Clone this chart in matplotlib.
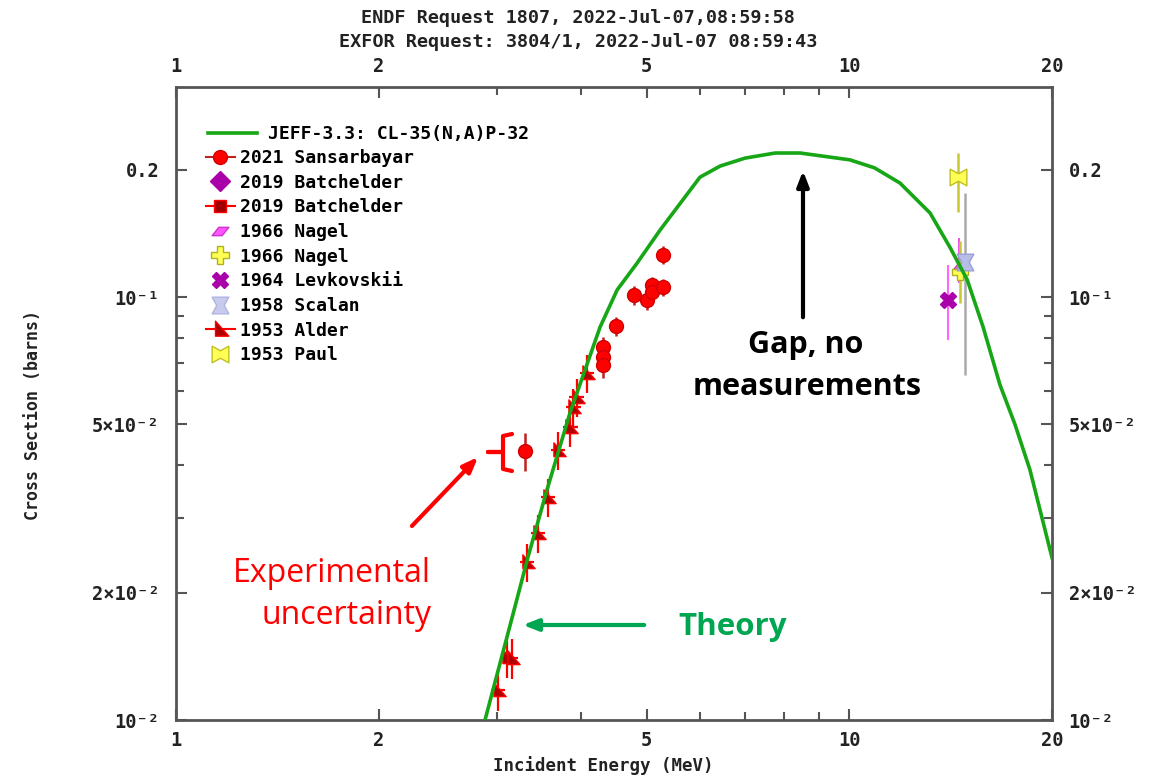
import matplotlib
matplotlib.use("Agg")
import matplotlib.pyplot as plt
from matplotlib.path import Path
from matplotlib.lines import Line2D

# ---------------- data ----------------
theory_E = [2.877, 3.13, 3.333, 3.556, 3.847, 4.264, 4.52, 4.84, 5.236, 6.0, 6.43, 7.0,
            7.76, 8.45, 10.02, 10.9, 11.89, 13.18, 14.11, 14.96, 15.80, 16.74, 17.62, 18.55, 20.0]
theory_S = [0.0100, 0.0166, 0.0243, 0.0350, 0.0532, 0.0849, 0.1039, 0.1203, 0.144, 0.192, 0.204, 0.213,
            0.219, 0.219, 0.211, 0.202, 0.186, 0.158, 0.131, 0.110, 0.085, 0.062, 0.050, 0.039, 0.0242]

sans_E = [3.30, 4.31, 4.31, 4.31, 4.50, 4.79, 5.01, 5.09, 5.09, 5.29, 5.29]
sans_S = [0.0432, 0.0760, 0.0720, 0.0690, 0.0854, 0.1010, 0.0984, 0.1067, 0.1027, 0.1056, 0.1257]
sans_dS = [0.0045, 0.0045, 0.0045, 0.0045, 0.0045, 0.0050, 0.0050, 0.0050, 0.0050, 0.0050, 0.0060]

alder_E = [3.01, 3.10, 3.15, 3.32, 3.45, 3.57, 3.69, 3.85, 3.89, 3.94, 4.08]
alder_S = [0.0118, 0.0141, 0.0140, 0.0236, 0.0277, 0.0337, 0.0435, 0.0493, 0.0549, 0.0580, 0.0661]
alder_dE = [0.07, 0.07, 0.07, 0.08, 0.08, 0.09, 0.09, 0.10, 0.10, 0.10, 0.10]
alder_dS = [0.0013, 0.0015, 0.0015, 0.0024, 0.0029, 0.0035, 0.0045, 0.0051, 0.0058, 0.0061, 0.0069]

paul_E, paul_S, paul_lo, paul_hi = [14.5], [0.192], [0.033], [0.027]
scalan_E, scalan_S, scalan_lo, scalan_hi = [14.85], [0.121], [0.0556], [0.055]
nagelY_E, nagelY_S, nagelY_lo, nagelY_hi = [14.6], [0.1146], [0.018], [0.021]
nagelM_E, nagelM_S, nagelM_lo, nagelM_hi = [14.55], [0.118], [0.010], [0.020]
levk_E, levk_S, levk_lo, levk_hi = [14.02], [0.0984], [0.0194], [0.0206]

legend_labels = ["JEFF-3.3: CL-35(N,A)P-32", "2021 Sansarbayar", "2019 Batchelder",
                 "2019 Batchelder", "1966 Nagel", "1966 Nagel", "1964 Levkovskii",
                 "1958 Scalan", "1953 Alder", "1953 Paul"]

x_ticks = [1, 2, 5, 10, 20]
x_minor = [3, 4, 6, 7, 8, 9]
y_ticks = [0.01, 0.02, 0.05, 0.1, 0.2]
y_ticklabels = ["10⁻²", "2×10⁻²", "5×10⁻²", "10⁻¹", "0.2"]
y_minor = [0.03, 0.04, 0.06, 0.07, 0.08, 0.09]

# ---------------- markers ----------------
alder_m = Path([(-0.6, 1.0), (1.0, -0.8), (-0.6, -0.8), (-0.6, 1.0)], closed=True)
paul_m = Path([(-1, -1), (-1, 1), (0, 0.45), (1, 1), (1, -1), (0, -0.45), (-1, -1)], closed=True)
scalan_m = Path([(-1, 1), (1, 1), (0.45, 0), (1, -1), (-1, -1), (-0.45, 0), (-1, 1)], closed=True)
nagelM_m = Path([(-1, -0.5), (0.2, -0.5), (1, 0.5), (-0.2, 0.5), (-1, -0.5)], closed=True)

GREEN = "#16a616"
RED = "#ff0000"
DRED = "#b00000"
MONO = "DejaVu Sans Mono"

W, H = 1155, 775
fig = plt.figure(figsize=(W / 100, H / 100), dpi=100)
ax = fig.add_axes([176 / W, 1 - 720 / H, (1052 - 176) / W, (720 - 87) / H])
ax.set_xscale("log")
ax.set_yscale("log")
ax.set_xlim(1, 20)
ax.set_ylim(0.01, 0.3137)

# theory
ax.plot(theory_E, theory_S, color=GREEN, lw=2.6, zorder=6)

# Sansarbayar
ax.errorbar(sans_E, sans_S, yerr=sans_dS, fmt="o", ms=10, mfc=RED, mec="#d00000",
            ecolor="#c02020", elinewidth=1.8, capsize=0, zorder=4)
# Alder
ax.errorbar(alder_E, alder_S, xerr=alder_dE, yerr=alder_dS,
            fmt="none", ecolor=RED, elinewidth=1.6, capsize=0, zorder=3)
ax.plot(alder_E, alder_S, ls="none", marker=alder_m, ms=11, mfc=DRED, mec=RED, mew=1, zorder=4)
# Right-side points
ax.errorbar(levk_E, levk_S, yerr=[levk_lo, levk_hi], fmt="X", ms=12, mfc="#aa00aa", mec="#aa00aa",
            ecolor="#ff66ff", elinewidth=1.5, capsize=0, zorder=4)
ax.errorbar(scalan_E, scalan_S, yerr=[scalan_lo, scalan_hi], fmt="none", ecolor="#aaaaaa",
            elinewidth=1.8, capsize=0, zorder=3)
ax.errorbar(nagelM_E, nagelM_S, yerr=[nagelM_lo, nagelM_hi], fmt="none", ecolor="#ee55ee",
            elinewidth=1.5, capsize=0, zorder=3)
ax.plot(nagelM_E, nagelM_S, ls="none", marker=nagelM_m, ms=10, mfc="#ff55ff", mec="#cc33cc", zorder=3)
ax.errorbar(nagelY_E, nagelY_S, yerr=[nagelY_lo, nagelY_hi], fmt="P", ms=12, mfc="#ffff55",
            mec="#b0b020", ecolor="#c8c830", elinewidth=1.8, capsize=0, zorder=4)
ax.plot(scalan_E, scalan_S, ls="none", marker=scalan_m, ms=12, mfc="#b8bce8", mec="#9aa0d8", zorder=5)
ax.errorbar(paul_E, paul_S, yerr=[paul_lo, paul_hi], fmt="none", ecolor="#c8c830",
            elinewidth=1.8, capsize=0, zorder=3)
ax.plot(paul_E, paul_S, ls="none", marker=paul_m, ms=12, mfc="#ffff55", mec="#c0c020", zorder=4)

# ---------------- axes styling ----------------
for s in ax.spines.values():
    s.set_color("#555555")
    s.set_linewidth(2)
ax.set_xticks(x_ticks)
ax.set_xticks(x_minor, minor=True)
ax.set_xticklabels([str(t) for t in x_ticks])
ax.set_xticklabels([], minor=True)
ax.set_yticks(y_ticks)
ax.set_yticklabels(y_ticklabels)
ax.set_yticks(y_minor, minor=True)
ax.set_yticklabels([], minor=True)
ax.tick_params(which="both", direction="in", top=True, right=True, labeltop=True, labelright=True,
               color="#555555", width=1.5)
ax.tick_params(which="major", length=8)
ax.tick_params(which="minor", length=6)
ax.tick_params(axis="x", which="major", pad=8)
ax.tick_params(axis="y", which="major", pad=12)
for t in ax.xaxis.get_major_ticks() + ax.yaxis.get_major_ticks():
    for l in (t.label1, t.label2):
        l.set_fontfamily(MONO)
        l.set_fontweight("bold")
        l.set_fontsize(13.5)
        l.set_color("#222222")

fig.text(33 / W, 1 - 415 / H, "Cross Section (barns)", rotation=90, ha="center", va="center",
         family=MONO, fontweight="bold", fontsize=12, color="#222222")
fig.text(603 / W, 1 - 766 / H, "Incident Energy (MeV)", ha="center", va="center",
         family=MONO, fontweight="bold", fontsize=12.5, color="#222222")
fig.text(578 / W, 1 - 18 / H, "ENDF Request 1807, 2022-Jul-07,08:59:58", ha="center", va="center",
         family=MONO, fontweight="bold", fontsize=13.3, color="#222222")
fig.text(578 / W, 1 - 42 / H, "EXFOR Request: 3804/1, 2022-Jul-07 08:59:43", ha="center", va="center",
         family=MONO, fontweight="bold", fontsize=13.3, color="#222222")

# ---------------- legend ----------------
lprop = dict(family=MONO, weight="bold", size=13)
h_line = [Line2D([], [], color=GREEN, lw=2.6)]
h_marks = [
    Line2D([], [], color="#c02020", lw=1.5, marker="o", ms=10, mfc=RED, mec="#d00000"),
    Line2D([], [], ls="none", marker="D", ms=10, mfc="#aa00aa", mec="#aa00aa"),
    Line2D([], [], color=RED, lw=1.5, marker="s", ms=9, mfc="#a00000", mec=RED),
    Line2D([], [], ls="none", marker=nagelM_m, ms=12, mfc="#ff55ff", mec="#cc33cc"),
    Line2D([], [], ls="none", marker="P", ms=13, mfc="#ffff55", mec="#b0b020"),
    Line2D([], [], ls="none", marker="X", ms=12, mfc="#aa00aa", mec="#aa00aa"),
    Line2D([], [], ls="none", marker=scalan_m, ms=12, mfc="#c8cbec", mec="#b0b4e0"),
    Line2D([], [], color=RED, lw=1.5, marker=alder_m, ms=12, mfc=DRED, mec=RED),
    Line2D([], [], ls="none", marker=paul_m, ms=12, mfc="#ffff55", mec="#c0c020"),
]
leg1 = ax.legend(h_line, legend_labels[:1], loc="upper left", bbox_to_anchor=((208 - 176) / 876, 1 - (125 - 87) / 633),
                 frameon=False, prop=lprop, handlelength=2.7, handletextpad=0.6, borderpad=0, borderaxespad=0)
ax.add_artist(leg1)
ax.legend(h_marks, legend_labels[1:], loc="upper left", bbox_to_anchor=((206 - 176) / 876, 1 - (149 - 87) / 633),
          frameon=False, prop=lprop, handlelength=1.6, handletextpad=0.3, borderpad=0, borderaxespad=0,
          labelspacing=0.37)

# ---------------- annotations ----------------
def fp(x, y):
    return (x / W, 1 - y / H)

fig.text(*fp(806, 345), "Gap, no", ha="center", va="center", family="Open Sans",
         fontweight="bold", fontsize=22, color="black")
fig.text(*fp(807, 387), "measurements", ha="center", va="center", family="Open Sans",
         fontweight="bold", fontsize=22, color="black")
fig.text(*fp(431, 573), "Experimental", ha="right", va="center", family="Open Sans",
         fontsize=23, color=RED)
fig.text(*fp(431, 615), "uncertainty", ha="right", va="center", family="Open Sans",
         fontsize=23, color=RED)
fig.text(*fp(733, 627), "Theory", ha="center", va="center", family="Open Sans",
         fontweight="bold", fontsize=22.5, color="#00a651")

arrow_kw = dict(xycoords="figure fraction", textcoords="figure fraction")
ax.annotate("", xy=fp(803, 168), xytext=fp(803, 320), annotation_clip=False,
            arrowprops=dict(arrowstyle="-|>,head_length=0.9,head_width=0.35", lw=3, color="black"), **arrow_kw)
ax.annotate("", xy=fp(480, 455), xytext=fp(410, 528), annotation_clip=False,
            arrowprops=dict(arrowstyle="-|>,head_length=0.9,head_width=0.35", lw=3, color=RED), **arrow_kw)
ax.annotate("", xy=fp(520, 625), xytext=fp(647, 625), annotation_clip=False,
            arrowprops=dict(arrowstyle="-|>,head_length=0.9,head_width=0.35", lw=3, color="#00a651"), **arrow_kw)

# bracket
bx = [512, 503, 503, 488, 503, 503, 512]
by = [434, 436, 452, 452, 452, 469, 471]
fig.add_artist(Line2D([x / W for x in bx], [1 - y / H for y in by], color=RED, lw=3,
                      solid_joinstyle="round", solid_capstyle="round"))

fig.savefig("out.png", dpi=100)
